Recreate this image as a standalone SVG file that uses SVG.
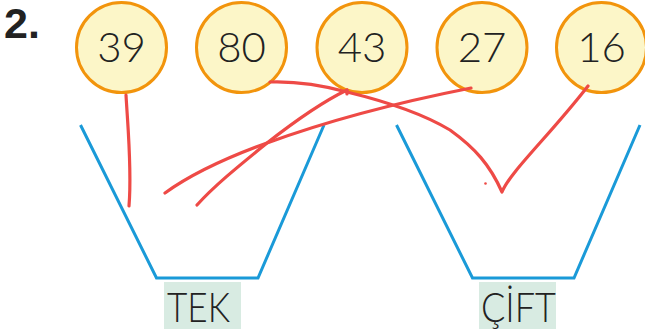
<svg xmlns="http://www.w3.org/2000/svg" width="645" height="333" viewBox="0 0 645 333">
<style>
.c{fill:#fcf6c8;stroke:#f2940c;stroke-width:3}
.n{font-family:"Lato Light",Lato,"Liberation Sans",sans-serif;font-weight:300;font-size:42px;fill:#222;text-anchor:middle}
.b{fill:none;stroke:#1a9ad8;stroke-width:3;stroke-linejoin:miter}
.r{fill:none;stroke:#ee4a46;stroke-width:3.2;stroke-linecap:round;stroke-linejoin:round}
.lb{fill:#d8ebe2}
.lt{font-family:"Lato Light",Lato,"Liberation Sans",sans-serif;font-weight:300;font-size:42px;fill:#222}
</style>
<rect width="645" height="333" fill="#fff"/>
<text x="4" y="38" font-family="'Liberation Sans',sans-serif" font-weight="bold" font-size="43" fill="#222">2.</text>
<g id="n39"><circle class="c" cx="121.5" cy="47.5" r="45"/><text class="n" x="121.5" y="62">39</text></g>
<g id="n80"><circle class="c" cx="241.5" cy="47.5" r="45"/><text class="n" x="241.5" y="62">80</text></g>
<g id="n43"><circle class="c" cx="362" cy="47.5" r="45"/><text class="n" x="362" y="62">43</text></g>
<g id="n27"><circle class="c" cx="482" cy="47.5" r="45"/><text class="n" x="482" y="62">27</text></g>
<g id="n16"><circle class="c" cx="601.5" cy="47.5" r="45"/><text class="n" x="601.5" y="62">16</text></g>
<g id="tek">
<polyline class="b" points="80.5,125 156.5,278 258,278 324,125"/>
<rect class="lb" x="164" y="282" width="77" height="47"/>
<text class="lt" x="167" y="322" textLength="63" lengthAdjust="spacingAndGlyphs">TEK</text>
</g>
<g id="cift">
<polyline class="b" points="396.5,125 472.5,278 574,278 640,125"/>
<rect class="lb" x="479" y="282" width="77" height="47"/>
<text class="lt" x="481" y="322" textLength="75" lengthAdjust="spacingAndGlyphs">ÇİFT</text>
</g>
<g id="connectors">
<path class="r" d="M126,95 C128,130 132,170 129,206"/>
<path class="r" d="M471,88 C400,102 330,120 267,143 C220,160 190,175 165,193"/>
<path class="r" d="M347,90 C320,103 290,125 267,143 C240,165 215,185 197,205"/>
<path class="r" d="M347,90 L347,94"/>
<path class="r" d="M270,82 C300,81 325,86 347,92 C380,100 420,112 450,130 C475,148 490,165 502,192 C510,172 550,135 588,86"/>
<circle cx="485.5" cy="183.5" r="1.3" fill="#ee4a46"/>
</g>
</svg>
